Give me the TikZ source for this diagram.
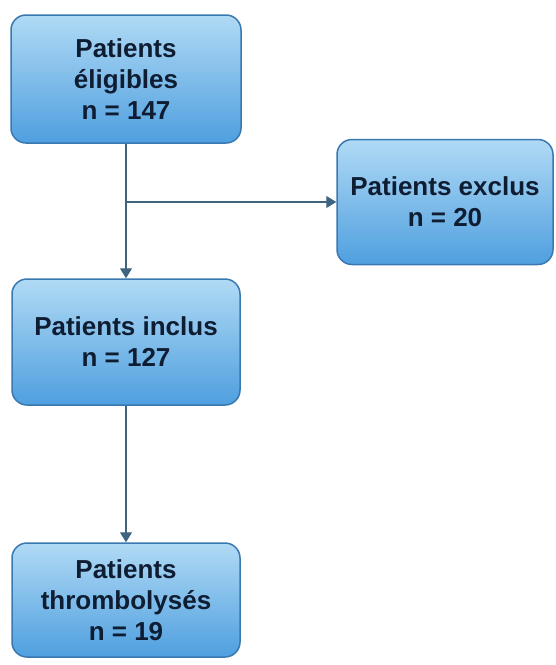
\documentclass[tikz,border=0pt]{standalone}
\usepackage{fontspec}
\setmainfont{Liberation Sans}
\usetikzlibrary{arrows.meta,positioning}
\definecolor{ink}{HTML}{0F1D33}
\definecolor{edge}{HTML}{3A78B0}
\definecolor{boxtop}{HTML}{B0DAF5}
\definecolor{boxbot}{HTML}{4F9FDF}
\definecolor{wire}{HTML}{3F6480}
\tikzset{>={Triangle[width=12pt,length=10pt]},
  every node/.style={font=\fontsize{26}{31}\selectfont\bfseries,text=ink},
  box/.style={draw=edge,line width=1.5pt,rounded corners=15pt,
    top color=boxtop,bottom color=boxbot,align=center,inner sep=0pt},
  flow/.style={->,draw=wire,line width=1.3pt}}
\begin{document}
\begin{tikzpicture}[x=1pt,y=-1pt]
\useasboundingbox (0,0) rectangle (556,665);
\node[box,minimum width=230pt,minimum height=128pt] (elig) at (126,79) {Patients\\éligibles\\n = 147};
\node[box,minimum width=216pt,minimum height=125pt] (excl) at (445,202) {Patients exclus\\n = 20};
\node[box,minimum width=228pt,minimum height=126pt] (incl) at (126,342) {Patients inclus\\n = 127};
\node[box,minimum width=228pt,minimum height=114pt] (thro) at (126,600) {Patients\\thrombolysés\\n = 19};
\draw[flow] (elig.south) -- (incl.north);
\draw[flow] (elig.south |- excl.west) -- (excl.west);
\draw[flow] (incl.south) -- (thro.north);
\end{tikzpicture}
\end{document}
